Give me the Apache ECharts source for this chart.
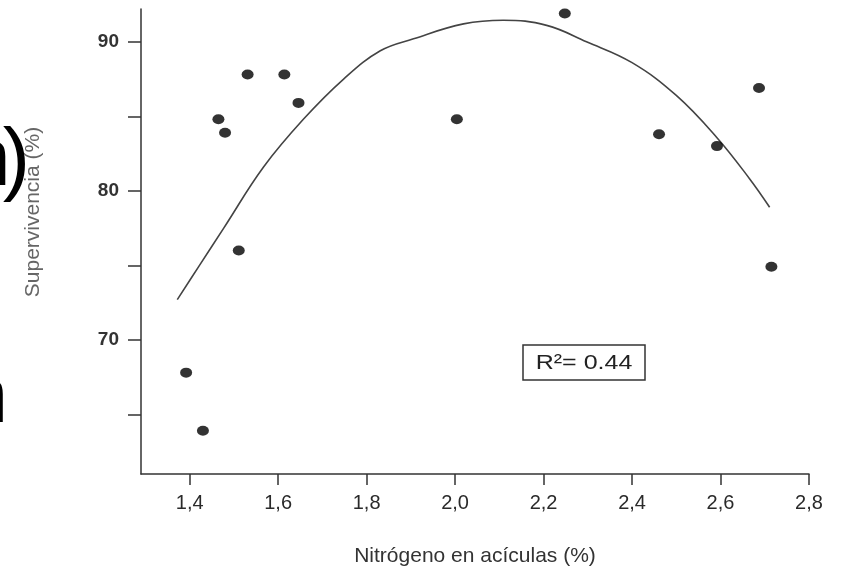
<!doctype html>
<html lang="es">
<head>
    <meta charset="UTF-8">
    <title>Supervivencia vs nitrógeno</title>
    <script src="https://cdn.jsdelivr.net/npm/echarts@6/dist/echarts.min.js"></script>
    <style>
        html, body { margin: 0; padding: 0; background: #fff; }
        #main { width: 841px; height: 572px; }
    </style>
</head>
<body>
<div id="main"></div>
<script type="text/javascript">
    // puntos observados (nitrógeno %, supervivencia %)
    var nitrogen = [1.392, 1.430, 1.465, 1.480, 1.511, 1.531, 1.614, 1.646, 2.004, 2.248, 2.461, 2.592, 2.687, 2.715];
    var survival = [67.8, 63.9, 84.8, 83.9, 76.0, 87.8, 87.8, 85.9, 84.8, 91.9, 83.8, 83.0, 86.9, 74.9];

    // curva ajustada
    var curveX = [1.372, 1.42, 1.477, 1.567, 1.657, 1.748, 1.831, 1.906, 2.019, 2.109, 2.207, 2.297, 2.40, 2.50, 2.591, 2.666, 2.711];
    var curveY = [72.7, 74.9, 77.5, 81.6, 84.8, 87.5, 89.4, 90.2, 91.2, 91.45, 91.1, 90.0, 88.6, 86.4, 83.6, 80.8, 78.9];

    // marcas de los ejes
    var xTicks = [1.4, 1.6, 1.8, 2.0, 2.2, 2.4, 2.6, 2.8];
    var yTicks = [65, 70, 75, 80, 85, 90];
    var yLabels = [70, 80, 90];

    var r2Text = 'R²= 0.44';

    var FONT = '"Liberation Sans", Arial, Helvetica, sans-serif';

    var pts = nitrogen.map(function (v, i) { return [v, survival[i]]; });
    var curve = curveX.map(function (v, i) { return [v, curveY[i]]; });

    var myChart = echarts.init(document.getElementById('main'));
    var option = {
        animation: false,
        backgroundColor: '#fff',
        grid: { left: 141, right: 32, top: 9, bottom: 96 },
        xAxis: {
            type: 'value',
            min: 1.29,
            max: 2.8,
            splitLine: { show: false },
            axisLine: { lineStyle: { color: '#333', width: 1.5 } },
            axisTick: { customValues: xTicks, length: 11, lineStyle: { color: '#333', width: 1.5 } },
            axisLabel: {
                customValues: xTicks,
                margin: 19,
                fontSize: 20,
                fontFamily: FONT,
                color: '#2a2a2a',
                formatter: function (v) { return v.toFixed(1).replace('.', ','); }
            },
            name: 'Nitrógeno en acículas (%)',
            nameLocation: 'middle',
            nameGap: 72,
            nameTextStyle: { fontSize: 21, fontFamily: FONT, color: '#333' }
        },
        yAxis: {
            type: 'value',
            min: 61,
            max: 92.2,
            splitLine: { show: false },
            axisLine: { lineStyle: { color: '#333', width: 1.5 } },
            axisTick: { customValues: yTicks, length: 13, lineStyle: { color: '#333', width: 1.5 } },
            axisLabel: {
                customValues: yLabels,
                margin: 22,
                fontSize: 19,
                fontWeight: 'bold',
                fontFamily: FONT,
                color: '#333'
            }
        },
        graphic: [
            // restos de texto recortado a la izquierda
            {
                type: 'text', x: -35, y: 162,
                style: { text: 'n', font: '82px ' + FONT, fill: '#000', align: 'left', verticalAlign: 'middle' }
            },
            {
                type: 'text', x: 30, y: 162,
                style: { text: ')', font: '82px ' + FONT, fill: '#000', align: 'right', verticalAlign: 'middle' }
            },
            {
                type: 'text', x: 8, y: 400,
                style: { text: 'n', font: '80px ' + FONT, fill: '#000', align: 'right', verticalAlign: 'middle' }
            },
            {
                type: 'text', x: 33, y: 212, rotation: Math.PI / 2,
                style: { text: 'Supervivencia (%)', font: '21px ' + FONT, fill: '#666', align: 'center', verticalAlign: 'middle' }
            },
            {
                type: 'group', x: 523, y: 345,
                children: [
                    {
                        type: 'rect',
                        shape: { x: 0, y: 0, width: 122, height: 35 },
                        style: { fill: '#fff', stroke: '#333', lineWidth: 1.5 }
                    },
                    {
                        type: 'text', x: 61, y: 18, scaleX: 1.25,
                        style: { text: r2Text, font: '20px ' + FONT, fill: '#222', align: 'center', verticalAlign: 'middle' }
                    }
                ]
            }
        ],
        series: [
            {
                type: 'line',
                data: curve,
                smooth: 0.4,
                showSymbol: false,
                lineStyle: { color: '#444', width: 1.6 },
                z: 2
            },
            {
                type: 'scatter',
                data: pts,
                symbol: 'circle',
                symbolSize: [12, 10],
                itemStyle: { color: '#000' },
                z: 3
            }
        ]
    };
    myChart.setOption(option);
</script>
</body>
</html>
